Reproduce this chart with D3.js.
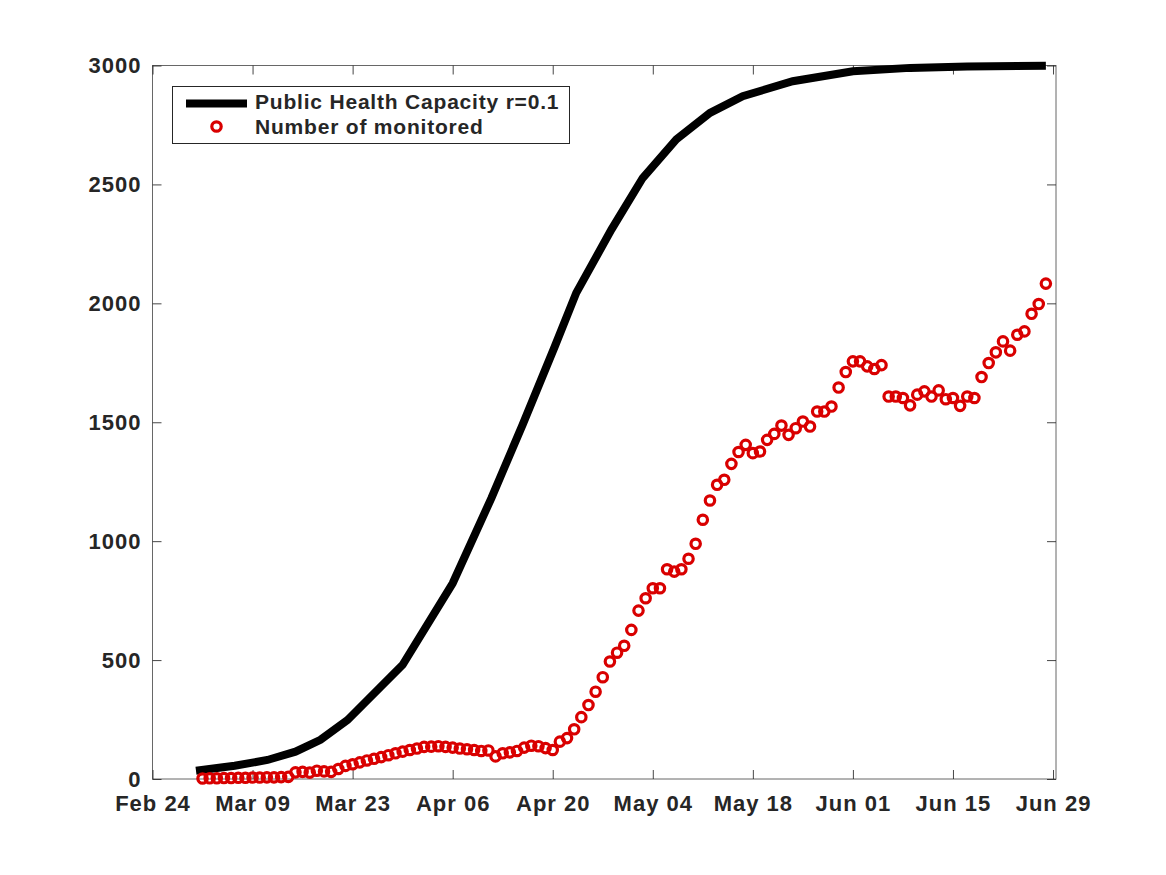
<!DOCTYPE html>
<html>
<head>
<meta charset="utf-8">
<script src="https://cdn.jsdelivr.net/npm/d3@7"></script>
<style>
  html, body { margin: 0; padding: 0; background: #ffffff; }
  svg { display: block; }
  text { font-family: "Liberation Sans", Arial, Helvetica, sans-serif; font-weight: bold; fill: #262626; }
</style>
</head>
<body>
<svg id="chart" width="1166" height="875"></svg>
<script>
// ---------------- data ----------------
const axisStart = "2020-02-24";
const axisEnd = "2020-06-29T10:00";
const xTickLabels = ["Feb 24", "Mar 09", "Mar 23", "Apr 06", "Apr 20", "May 04", "May 18", "Jun 01", "Jun 15", "Jun 29"];
const xTickDates = ["2020-02-24", "2020-03-09", "2020-03-23", "2020-04-06", "2020-04-20", "2020-05-04", "2020-05-18", "2020-06-01", "2020-06-15", "2020-06-29"];
const yTicks = [0, 500, 1000, 1500, 2000, 2500, 3000];

const seriesNames = ["Public Health Capacity r=0.1", "Number of monitored"];

// capacity curve: days since Feb 24 and values
const capacityDays = [6.1, 11.5, 16.1, 20.0, 23.5, 27.3, 35.0, 42.0, 47.4, 51.8, 56.3, 59.3, 64.2, 68.6, 73.3, 78.0, 82.6, 89.6, 98.0, 106.0, 114.0, 125.0];
const capacityValues = [35, 56, 80, 115, 165, 248, 480, 823, 1181, 1490, 1819, 2044, 2310, 2527, 2689, 2801, 2871, 2934, 2976, 2990, 2996, 2999];

// monitored: daily values starting Mar 02
const monitoredStart = "2020-03-02";
const monitoredValues = [
  2, 3, 3, 4, 4, 5, 5, 6, 6, 7,
  7, 8, 9, 28, 30, 27, 35, 32, 30, 42,
  55, 62, 70, 78, 85, 92, 100, 108, 115, 122,
  128, 135, 136, 138, 135, 132, 128, 125, 122, 118,
  120, 95, 108, 112, 118, 132, 140, 138, 130, 122,
  157, 172, 209, 260, 311, 367, 428, 494, 531, 560,
  627, 708, 760, 802, 802, 882, 872, 882, 926, 989,
  1090, 1171, 1237, 1258, 1325, 1375, 1405, 1370, 1377, 1426,
  1451, 1486, 1447, 1475, 1503, 1482, 1545, 1545, 1566, 1646,
  1711, 1756, 1756, 1735, 1724, 1740, 1608, 1608, 1602, 1571,
  1616, 1630, 1608, 1634, 1597, 1602, 1569, 1608, 1602, 1690,
  1749, 1794, 1840, 1801, 1868, 1882, 1956, 1997, 2083
];

// ---------------- layout ----------------
const L = 152.5, R = 1056, T = 65.5, B = 779;
const parse = d3.isoParse;
const t0 = parse(axisStart);

const x = d3.scaleTime().domain([t0, parse(axisEnd)]).range([L, R]);
const y = d3.scaleLinear().domain([0, 3000]).range([B, T]);

const svg = d3.select("#chart");
svg.append("rect").attr("width", 1166).attr("height", 875).attr("fill", "#ffffff");

const axisColor = "#262626";
const tickLen = 9;

// x axis bottom
const xTickDateObjs = xTickDates.map(parse);
const gxB = svg.append("g").attr("transform", `translate(0,${B})`)
  .call(d3.axisBottom(x).tickValues(xTickDateObjs).tickSize(-tickLen)
    .tickFormat((d, i) => xTickLabels[i]));
gxB.select(".domain").remove();
gxB.selectAll(".tick line").attr("stroke", axisColor).attr("stroke-width", 1).attr("opacity", 0.85);
gxB.selectAll(".tick text").attr("y", 31.5).attr("dy", null)
  .style("font-size", "22px").style("letter-spacing", "1px")
  .style("font-family", '"Liberation Sans", Arial, sans-serif').style("font-weight", "bold").attr("fill", "#262626");

// x axis top (ticks only)
const gxT = svg.append("g").attr("transform", `translate(0,${T})`)
  .call(d3.axisTop(x).tickValues(xTickDateObjs).tickSize(-tickLen).tickFormat(""));
gxT.select(".domain").remove();
gxT.selectAll(".tick line").attr("stroke", axisColor).attr("stroke-width", 1).attr("opacity", 0.85);

// y axis left
const gyL = svg.append("g").attr("transform", `translate(${L},0)`)
  .call(d3.axisLeft(y).tickValues(yTicks).tickSize(-tickLen).tickPadding(11).tickFormat(d3.format("d")));
gyL.select(".domain").remove();
gyL.selectAll(".tick line").attr("stroke", axisColor).attr("stroke-width", 1).attr("opacity", 0.85);
gyL.selectAll(".tick text")
  .style("font-size", "22px").style("letter-spacing", "1px")
  .style("font-family", '"Liberation Sans", Arial, sans-serif').style("font-weight", "bold").attr("fill", "#262626");

// y axis right (ticks only)
const gyR = svg.append("g").attr("transform", `translate(${R},0)`)
  .call(d3.axisRight(y).tickValues(yTicks).tickSize(-tickLen).tickFormat(""));
gyR.select(".domain").remove();
gyR.selectAll(".tick line").attr("stroke", axisColor).attr("stroke-width", 1).attr("opacity", 0.85);

// box
svg.append("rect").attr("x", L).attr("y", T).attr("width", R - L).attr("height", B - T)
  .attr("fill", "none").attr("stroke", axisColor).attr("stroke-width", 1).attr("opacity", 0.7);

// capacity line
const capData = capacityDays.map((d, i) => ({ date: d3.timeHour.offset(t0, Math.round(d * 24)), v: capacityValues[i] }));
const line = d3.line().x(d => x(d.date)).y(d => y(d.v));
svg.append("path").datum(capData).attr("d", line)
  .attr("fill", "none").attr("stroke", "#000000").attr("stroke-width", 8)
  .attr("stroke-linejoin", "miter").attr("stroke-linecap", "butt");

// monitored points
const mStart = parse(monitoredStart);
const monData = monitoredValues.map((v, i) => ({ date: d3.timeDay.offset(mStart, i), v }));
svg.append("g").selectAll("circle").data(monData).join("circle")
  .attr("cx", d => x(d.date)).attr("cy", d => y(d.v)).attr("r", 4.7)
  .attr("fill", "none").attr("stroke", "#d90000").attr("stroke-width", 3.2);

// legend
const lg = svg.append("g");
lg.append("rect").attr("x", 172.5).attr("y", 86.5).attr("width", 397).attr("height", 57)
  .attr("fill", "#ffffff").attr("stroke", "#262626").attr("stroke-width", 1).attr("opacity", 1);
lg.append("line").attr("x1", 186).attr("x2", 247).attr("y1", 103.5).attr("y2", 103.5)
  .attr("stroke", "#000").attr("stroke-width", 8);
lg.append("circle").attr("cx", 216.5).attr("cy", 126.5).attr("r", 4.7)
  .attr("fill", "none").attr("stroke", "#d90000").attr("stroke-width", 3.2);
lg.append("text").attr("x", 255).attr("y", 109).text(seriesNames[0])
  .style("font-size", "21px").style("letter-spacing", "0.8px");
lg.append("text").attr("x", 255).attr("y", 133.5).text(seriesNames[1])
  .style("font-size", "21px").style("letter-spacing", "0.8px");
</script>
</body>
</html>
